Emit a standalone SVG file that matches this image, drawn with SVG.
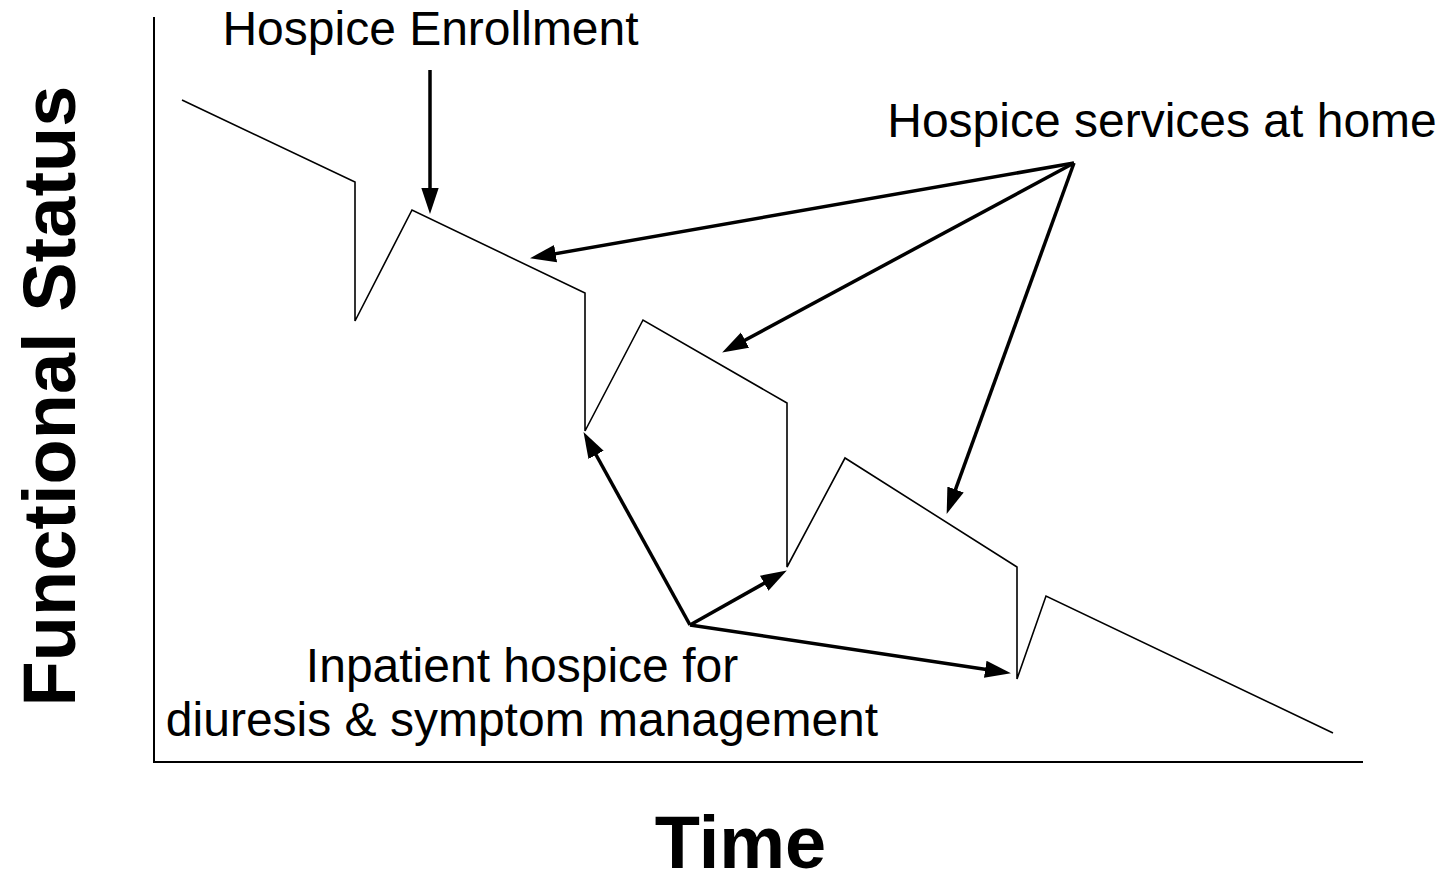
<svg xmlns="http://www.w3.org/2000/svg" width="1443" height="877" viewBox="0 0 1443 877">
<style>
.lbl{font-family:"Liberation Sans",Arial,sans-serif;font-size:48px;fill:#000}
.ttl{font-family:"Liberation Sans",Arial,sans-serif;font-size:74px;font-weight:bold;fill:#000}
.axis{stroke:#000;stroke-width:2;fill:none}
.curve{stroke:#000;stroke-width:1.6;fill:none;stroke-linejoin:miter}
.arr{stroke:#000;stroke-width:3.5;fill:none;marker-end:url(#ah)}
</style>
<defs>
<marker id="ah" markerUnits="userSpaceOnUse" markerWidth="26" markerHeight="18" viewBox="0 0 24 16" refX="12" refY="8" orient="auto">
<path d="M0,0 L24,8 L0,16 z" fill="#000"/>
</marker>
</defs>
<rect width="1443" height="877" fill="#fff"/>
<g id="axes">
<line class="axis" x1="154" y1="17" x2="154" y2="763"/>
<line class="axis" x1="153" y1="762" x2="1363" y2="762"/>
</g>
<g id="curve">
<polyline class="curve" points="182,100 355,182 355,321 412,210 585,293 585,431 643,320 787,403 787,567 845,458 1017,567 1017,679 1046,596 1333,733"/>
</g>
<g id="label-enrollment"><text class="lbl" x="430.5" y="45" text-anchor="middle">Hospice Enrollment</text></g>
<g id="label-home"><text class="lbl" x="1162" y="137" text-anchor="middle">Hospice services at home</text></g>
<g id="label-inpatient">
<text class="lbl" x="522" y="682" text-anchor="middle">Inpatient hospice for</text>
<text class="lbl" x="522" y="736" text-anchor="middle">diuresis &amp; symptom management</text>
</g>
<g id="label-time"><text class="ttl" x="740.5" y="868" text-anchor="middle">Time</text></g>
<g id="label-status"><text class="ttl" transform="translate(75,396) rotate(-90)" text-anchor="middle">Functional Status</text></g>
<g id="connectors">
<line class="arr" x1="430" y1="70" x2="430" y2="201"/>
<line class="arr" x1="1074" y1="163" x2="542.8" y2="255.9"/>
<line class="arr" x1="1074" y1="163" x2="733.6" y2="346.3"/>
<line class="arr" x1="1074" y1="163" x2="951.1" y2="501.7"/>
<line class="arr" x1="690" y1="625" x2="589.8" y2="443.5"/>
<line class="arr" x1="690" y1="625" x2="775.5" y2="576.9"/>
<line class="arr" x1="690" y1="625" x2="998.1" y2="671.2"/>
</g>
</svg>
